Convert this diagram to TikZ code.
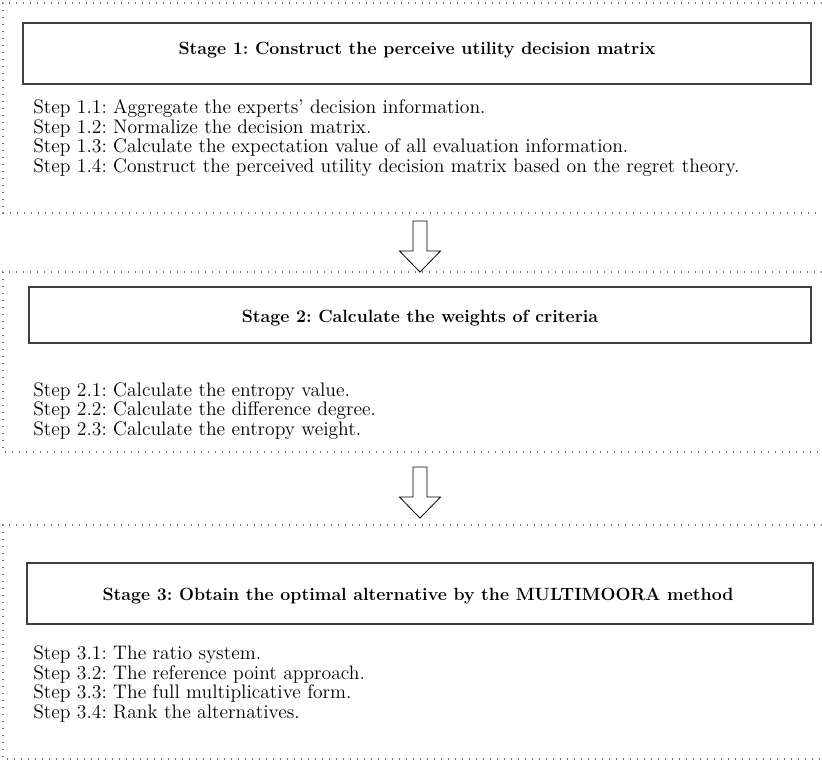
\documentclass[tikz,border=0pt]{standalone}
\usepackage{fontspec}
\frenchspacing
\begin{document}
\begin{tikzpicture}[x=0.75pt,y=-0.75pt,
  frame/.style={draw=black!55, line width=1.1pt, dash pattern=on 1.1pt off 4.15pt},
  titlebox/.style={draw=black!75, line width=0.9pt},
  titletext/.style={font=\fontsize{13.3}{18}\selectfont\bfseries, text=black, anchor=base, inner sep=0pt},
  stepline/.style={font=\fontsize{14.7}{18}\selectfont, text=black, anchor=base west, inner sep=0pt},
  barrow/.style={draw=black, line width=0.6pt, fill=white, line join=miter},
  pics/blockarrow/.style={code={\draw[barrow] (-7,0) -- (7,0) -- (7,30) -- (20.5,30) -- (0,51) -- (-20.5,30) -- (-7,30) -- cycle;}}
]
\useasboundingbox (0,0) rectangle (822,771);
% Stage 1
\draw[frame] (822,3) -- (3,3) -- (3,213) -- (822,213);
\draw[titlebox] (23,23) rectangle (811,84);
\node[titletext] (t1) at (417,55) {Stage 1: Construct the perceive utility decision matrix};
\node[stepline] (s11) at (33,113.5) {Step 1.1: Aggregate the experts' decision information.};
\node[stepline] (s12) at (33,133) {Step 1.2: Normalize the decision matrix.};
\node[stepline] (s13) at (33,152.5) {Step 1.3: Calculate the expectation value of all evaluation information.};
\node[stepline] (s14) at (33,172) {Step 1.4: Construct the perceived utility decision matrix based on the regret theory.};
\pic at (420,221) {blockarrow};
% Stage 2
\draw[frame] (822,272) -- (3,272) -- (3,452) -- (822,452);
\draw[titlebox] (29,287) rectangle (811,343);
\node[titletext] (t2) at (420,322) {Stage 2: Calculate the weights of criteria};
\node[stepline] (s21) at (33,396) {Step 2.1: Calculate the entropy value.};
\node[stepline] (s22) at (33,415.5) {Step 2.2: Calculate the difference degree.};
\node[stepline] (s23) at (33,435) {Step 2.3: Calculate the entropy weight.};
\pic at (420,467) {blockarrow};
% Stage 3
\draw[frame] (822,525) -- (3,525) -- (3,759) -- (822,759);
\draw[titlebox] (27,563) rectangle (813,624);
\node[titletext] (t3) at (418,600) {Stage 3: Obtain the optimal alternative by the MULTIMOORA method};
\node[stepline] (s31) at (33,659) {Step 3.1: The ratio system.};
\node[stepline] (s32) at (33,679) {Step 3.2: The reference point approach.};
\node[stepline] (s33) at (33,698) {Step 3.3: The full multiplicative form.};
\node[stepline] (s34) at (33,718) {Step 3.4: Rank the alternatives.};
\end{tikzpicture}
\end{document}
